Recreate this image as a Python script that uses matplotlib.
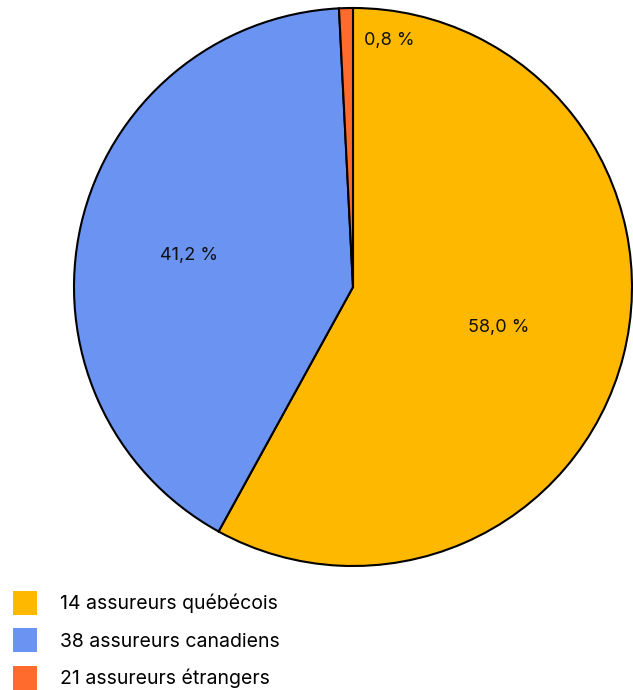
import numpy as np
import matplotlib
matplotlib.use("Agg")
import matplotlib.pyplot as plt
import matplotlib.patches as mpatches

plt.rcParams["font.family"] = ["Inter", "DejaVu Sans"]

# Part de marché par groupe d'assureurs
labels = ["14 assureurs québécois", "38 assureurs canadiens", "21 assureurs étrangers"]
shares = [58.0, 41.2, 0.8]
colors = ["#FFB800", "#6A93F2", "#FF6B2C"]

fig = plt.figure(figsize=(6.33, 6.90), dpi=100)
ax = fig.add_axes([74 / 633, 124 / 690, 558 / 633, 558 / 690])

wedges, texts, autotexts = ax.pie(
    shares, colors=colors, startangle=90, counterclock=False, radius=1.0,
    autopct=lambda p: f"{p:.1f} %".replace(".", ","), pctdistance=0.55,
    wedgeprops=dict(edgecolor="black", linewidth=1.5),
    textprops=dict(fontsize=13, color="#111111"))
for w in wedges:
    w.set_clip_on(False)

# label radius / angle nudge per slice
label_r = [0.54, 0.60]
label_da = [-1.0, 2.0]
for w, t, r, da in zip(wedges[:2], autotexts[:2], label_r, label_da):
    a = np.deg2rad((w.theta1 + w.theta2) / 2 + da)
    t.set_position((r * np.cos(a), r * np.sin(a)))
# the tiny slice gets its label pushed beside it
autotexts[2].set_position((0.13, 0.885))

ax.set_xlim(-1, 1)
ax.set_ylim(-1, 1)
ax.set_aspect("equal")
ax.axis("off")

handles = [mpatches.Patch(facecolor=c, edgecolor="none", label=l)
           for c, l in zip(colors, labels)]
fig.legend(handles=handles, loc="upper left", bbox_to_anchor=(13 / 633, 99 / 690),
           frameon=False, fontsize=14, handlelength=1.24, handleheight=1.53,
           handletextpad=1.19, labelspacing=0.68, borderpad=0, borderaxespad=0)

plt.savefig("out.png", dpi=100)
plt.close()
